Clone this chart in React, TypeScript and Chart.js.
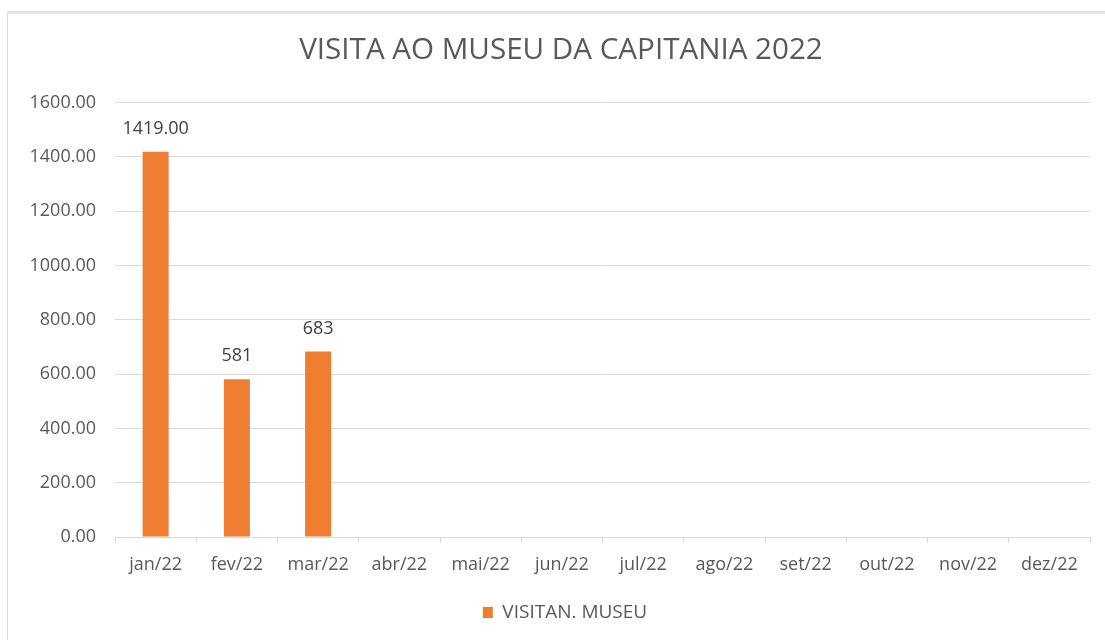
import React, { useEffect, useRef } from "react";
import { Chart, registerables } from "chart.js";

Chart.register(...registerables);

const categories = ["jan/22", "fev/22", "mar/22", "abr/22", "mai/22", "jun/22", "jul/22", "ago/22", "set/22", "out/22", "nov/22", "dez/22"];
const visitValues: (number | null)[] = [1419, 581, 683, null, null, null, null, null, null, null, null, null];
const valueLabels = ["1419.00", "581", "683", "", "", "", "", "", "", "", "", ""];
const yTicks = [0, 200, 400, 600, 800, 1000, 1200, 1400, 1600];
const seriesName = "VISITAN. MUSEU";
const chartTitle = "VISITA AO MUSEU DA CAPITANIA 2022";

const FONT = "'Open Sans', 'Noto Sans', sans-serif";

const dataLabelPlugin = {
  id: "dataLabels",
  afterDatasetsDraw(chart: any) {
    const ctx = chart.ctx;
    const meta = chart.getDatasetMeta(0);
    ctx.save();
    ctx.font = `18px ${FONT}`;
    ctx.fillStyle = "#404040";
    ctx.textAlign = "center";
    ctx.textBaseline = "middle";
    meta.data.forEach((el: any, i: number) => {
      const t = valueLabels[i];
      if (!t || visitValues[i] == null) return;
      ctx.fillText(t, el.x, el.y - 23);
    });
    ctx.restore();
  },
};

// The original frame extends past the right edge of the picture, so the
// title and legend are centred a little right of the canvas centre.
const centreShiftPlugin = {
  id: "centreShift",
  afterLayout(chart: any) {
    if (chart.titleBlock) {
      chart.titleBlock.left += 16;
      chart.titleBlock.right += 16;
    }
    if (chart.legend) {
      chart.legend.left += 20;
      chart.legend.right += 20;
    }
  },
};

export default function App() {
  const ref = useRef<HTMLCanvasElement | null>(null);
  useEffect(() => {
    document.body.style.margin = "0";
    const chart = new Chart(ref.current as HTMLCanvasElement, {
      type: "bar",
      data: {
        labels: categories,
        datasets: [
          {
            label: seriesName,
            data: visitValues,
            backgroundColor: "#ED7D31",
            borderWidth: 0,
            barPercentage: 0.64,
            categoryPercentage: 0.5,
          },
        ],
      },
      options: {
        animation: false,
        responsive: true,
        maintainAspectRatio: false,
        layout: { padding: { left: 0, right: 15, top: 33, bottom: 8 } },
        plugins: {
          title: {
            display: true,
            text: chartTitle,
            color: "#595959",
            font: { family: FONT, size: 29.6, weight: "normal" },
            padding: { top: 0, bottom: 34 },
          },
          legend: {
            display: true,
            position: "bottom",
            labels: {
              color: "#595959",
              font: { family: FONT, size: 19 },
              boxWidth: 10,
              boxHeight: 11,
              padding: 10,
            },
          },
          tooltip: { enabled: false },
        },
        scales: {
          x: {
            grid: {
              display: true,
              drawOnChartArea: false,
              drawTicks: true,
              tickLength: 6,
              color: "#d9d9d9",
              offset: true,
            },
            border: { display: true, color: "#d9d9d9" },
            ticks: {
              color: "#595959",
              font: { family: FONT, size: 18 },
              padding: 11,
              maxRotation: 0,
            },
            afterFit(scale: any) {
              scale.height = 56;
            },
          },
          y: {
            min: 0,
            max: 1600,
            afterBuildTicks(scale: any) {
              scale.ticks = yTicks.map((v) => ({ value: v }));
            },
            grid: { color: "#d9d9d9", drawTicks: false },
            border: { display: false },
            ticks: {
              color: "#595959",
              font: { family: FONT, size: 18 },
              padding: 19,
              callback: (v: any) => Number(v).toFixed(2),
            },
            afterFit(scale: any) {
              scale.width = 115;
            },
          },
        },
      },
      plugins: [dataLabelPlugin, centreShiftPlugin],
    });
    return () => chart.destroy();
  }, []);

  return (
    <div>
      <div
        style={{
          position: "fixed",
          left: 7,
          top: 11,
          width: 1200,
          height: 700,
          borderTop: "3px solid #e3e3e3",
          borderLeft: "1px solid #dcdcdc",
          boxSizing: "border-box",
        }}
      />
      <div style={{ position: "fixed", left: 0, top: 0, width: 1105, height: 640 }}>
        <canvas ref={ref} />
      </div>
    </div>
  );
}
